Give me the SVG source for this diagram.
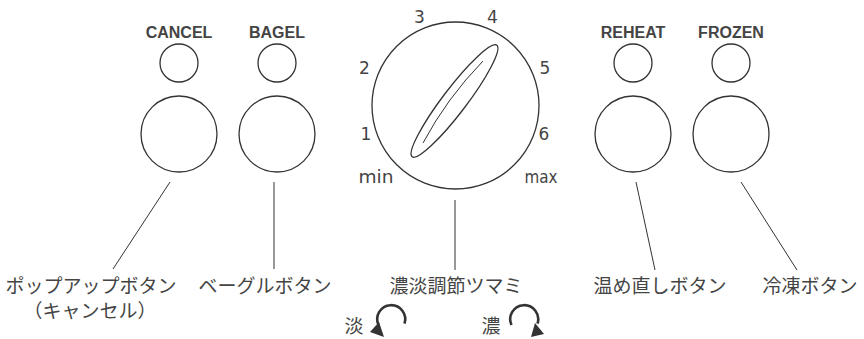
<svg xmlns="http://www.w3.org/2000/svg" width="864" height="339" viewBox="0 0 864 339">
<style>
.c{fill:none;stroke:#333;stroke-width:1.3}
.l{fill:none;stroke:#333;stroke-width:1}
.btn{font-family:"Liberation Sans",Arial,sans-serif;font-weight:bold;font-size:16px;fill:#444;text-anchor:middle}
.num{font-family:"DejaVu Sans",sans-serif;font-size:17px;fill:#444;text-anchor:middle}
.jp{font-family:"Noto Sans CJK JP",sans-serif;font-size:19px;fill:#444;text-anchor:middle}
.arc{fill:none;stroke:#333;stroke-width:2.6}
</style>
<rect width="864" height="339" fill="#fff"/>
<g id="cancel">
<text class="btn" x="179" y="38">CANCEL</text>
<circle class="c" cx="179" cy="63" r="19"/>
<circle class="c" cx="179" cy="134" r="38"/>
</g>
<g id="bagel">
<text class="btn" x="277" y="38">BAGEL</text>
<circle class="c" cx="277" cy="63" r="19"/>
<circle class="c" cx="277" cy="134" r="38"/>
</g>
<g id="reheat">
<text class="btn" x="633" y="38">REHEAT</text>
<circle class="c" cx="633" cy="63" r="19"/>
<circle class="c" cx="633" cy="134" r="38"/>
</g>
<g id="frozen">
<text class="btn" x="731" y="38">FROZEN</text>
<circle class="c" cx="731" cy="63" r="19"/>
<circle class="c" cx="731" cy="134" r="38"/>
</g>
<g id="dial">
<circle class="c" cx="455.5" cy="105.5" r="83.5"/>
<ellipse class="c" cx="454.5" cy="101" rx="70" ry="12" transform="rotate(-52.8 454.5 101)"/>
<path class="l" d="M423,143 Q447,98 483,61"/>
<text class="num" x="419.5" y="23">3</text>
<text class="num" x="492.5" y="23">4</text>
<text class="num" x="364.5" y="74">2</text>
<text class="num" x="545" y="74">5</text>
<text class="num" x="366" y="139.5">1</text>
<text class="num" x="544" y="139.5">6</text>
<text class="num" x="376" y="183" font-size="18.5" textLength="35" lengthAdjust="spacingAndGlyphs">min</text>
<text class="num" x="541" y="183" font-size="18.5" textLength="33" lengthAdjust="spacingAndGlyphs">max</text>
</g>
<g id="connectors">
<line class="l" x1="170" y1="182" x2="113" y2="269"/>
<line class="l" x1="274" y1="182" x2="274" y2="269"/>
<line class="l" x1="455" y1="200" x2="455" y2="270"/>
<line class="l" x1="636" y1="182" x2="655" y2="270"/>
<line class="l" x1="741" y1="182" x2="797" y2="270"/>
</g>
<g id="labels">
<text class="jp" x="91" y="293">ポップアップボタン</text>
<text class="jp" x="90" y="318">（キャンセル）</text>
<text class="jp" x="265" y="293">ベーグルボタン</text>
<text class="jp" x="456" y="293">濃淡調節ツマミ</text>
<text class="jp" x="660" y="293">温め直しボタン</text>
<text class="jp" x="810" y="293">冷凍ボタン</text>
</g>
<g id="light">
<text class="jp" x="354" y="333">淡</text>
<path class="arc" d="M404.5,323.6 A14,14 0 1 0 378.5,325"/>
<polygon points="370,332 379,322 384,337" fill="#333"/>
</g>
<g id="dark">
<text class="jp" x="491" y="333">濃</text>
<path class="arc" d="M511.5,325 A14,14 0 1 1 537.5,323.6"/>
<polygon points="544,334 535,323 531,337" fill="#333"/>
</g>
</svg>
